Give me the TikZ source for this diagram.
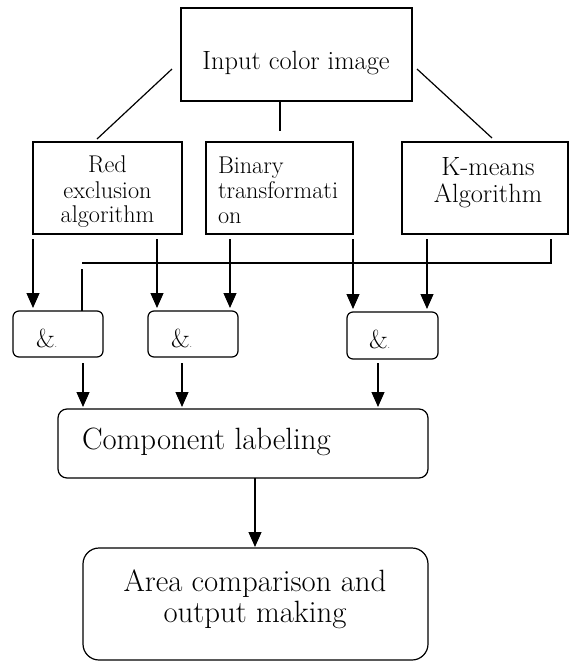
\documentclass[tikz,border=0pt]{standalone}
\usepackage{fontspec}
\usetikzlibrary{arrows.meta}
\tikzset{
  box/.style={draw, line width=1.2pt, inner sep=0pt, outer sep=0pt},
  rbox/.style={box, rounded corners=6pt},
  lbl/.style={inner sep=0pt, outer sep=0pt, anchor=base},
  lblw/.style={inner sep=0pt, outer sep=0pt, anchor=base west},
  conn/.style={line width=1.2pt},
  arr/.style={conn, -{Triangle[length=15pt,width=13pt]}},
  fbig/.style={font=\fontsize{26.4}{28}\selectfont},
  fmid/.style={font=\fontsize{24.2}{25}\selectfont},
  fhuge/.style={font=\fontsize{30.8}{32}\selectfont},
  famp/.style={font=\fontsize{26}{26}\selectfont},
}
\begin{document}
\begin{tikzpicture}[x=1pt,y=-1pt]
\useasboundingbox (0,0) rectangle (569,662);
% boxes
\node[box, minimum width=231pt, minimum height=93pt] (top) at (296.5,54.5) {};
\node[box, minimum width=149pt, minimum height=92pt] (red) at (107.5,188) {};
\node[box, minimum width=147pt, minimum height=92pt] (bin) at (279.5,188) {};
\node[box, minimum width=166pt, minimum height=92pt] (km) at (485,188) {};
\node[rbox, minimum width=90pt, minimum height=46pt] (amp1) at (58,334) {};
\node[rbox, minimum width=90pt, minimum height=46pt] (amp2) at (193,334) {};
\node[rbox, minimum width=91pt, minimum height=47pt] (amp3) at (392.5,335.5) {};
\node[box, rounded corners=9pt, minimum width=370pt, minimum height=69pt] (comp) at (243,443.5) {};
\node[box, rounded corners=16pt, minimum width=345pt, minimum height=112pt] (area) at (255.5,604) {};
% texts
\node[lbl, fbig] (ttop) at (296,69) {Input color image};
\node[lbl, fmid] (tred1) at (107.5,172.5) {Red};
\node[lbl, fmid] (tred2) at (107.5,198) {exclusion};
\node[lbl, fmid] (tred3) at (107.5,222.5) {algorithm};
\node[lblw, fmid] (tbin1) at (218,173) {Binary};
\node[lblw, fmid] (tbin2) at (218,198.5) {transformati};
\node[lblw, fmid] (tbin3) at (218,223) {on};
\node[lbl, fbig] (tkm1) at (488,175) {K-means};
\node[lbl, fbig] (tkm2) at (488,202.5) {Algorithm};
\node[lblw, famp] (tamp1) at (36,347) {\&{\fontsize{9}{9}\selectfont .}};
\node[lblw, famp] (tamp2) at (171,347) {\&{\fontsize{9}{9}\selectfont .}};
\node[lblw, famp] (tamp3) at (369,348) {\&{\fontsize{9}{9}\selectfont .}};
\node[lblw, fhuge] (tcomp) at (82,449) {Component labeling};
\node[lbl, fhuge] (tarea1) at (255,591) {Area comparison and};
\node[lbl, fhuge] (tarea2) at (255,622.5) {output making};
% free ends of the plain lines
\coordinate (l1a) at (172,69);
\coordinate (l1b) at (97,139);
\coordinate (l2a) at (280,102);
\coordinate (l2b) at (280,131);
\coordinate (l3a) at (417,69);
\coordinate (l3b) at (492,138);
\draw[conn] (l1a) -- (l1b);
\draw[conn] (l2a) -- (l2b);
\draw[conn] (l3a) -- (l3b);
% arrows into the & boxes
\coordinate (s1) at (33,239);
\coordinate (s2) at (157,239);
\coordinate (s3) at (230,239);
\coordinate (s4) at (353,239);
\coordinate (s5) at (427,239);
\draw[arr, shorten >=3pt] (s1) -- (s1 |- amp1.north);
\draw[arr, shorten >=3pt] (s2) -- (s2 |- amp2.north);
\draw[arr, shorten >=3pt] (s3) -- (s3 |- amp2.north);
\draw[arr, shorten >=3pt] (s4) -- (s4 |- amp3.north);
\draw[arr, shorten >=3pt] (s5) -- (s5 |- amp3.north);
% feedback line
\coordinate (f1) at (551,239);
\coordinate (f2) at (551,263);
\coordinate (f3) at (82,263);
\coordinate (f4) at (82,269);
\draw[conn] (f1) -- (f2) -- (f3);
\draw[conn] (f4) -- (f4 |- amp1.north);
% arrows into component labeling
\coordinate (b1) at (83,363);
\coordinate (b2) at (182,363);
\coordinate (b3) at (378,363);
\draw[arr, shorten >=2pt] (b1) -- (b1 |- comp.north);
\draw[arr, shorten >=2pt] (b2) -- (b2 |- comp.north);
\draw[arr, shorten >=2pt] (b3) -- (b3 |- comp.north);
% arrow to area
\coordinate (c1) at (255,478);
\draw[arr, shorten >=1pt] (c1) -- (c1 |- area.north);
\end{tikzpicture}
\end{document}
